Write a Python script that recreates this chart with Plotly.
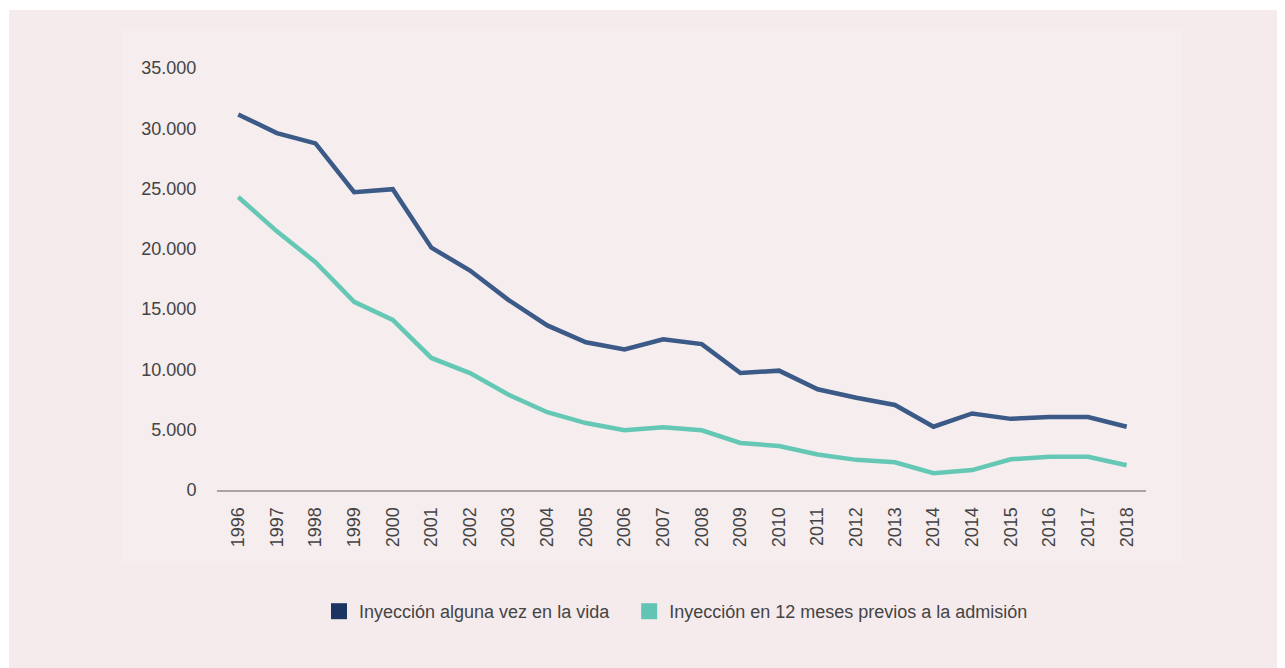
import plotly.graph_objects as go

years = ["1996", "1997", "1998", "1999", "2000", "2001", "2002", "2003", "2004", "2005",
         "2006", "2007", "2008", "2009", "2010", "2011", "2012", "2013", "2014", "2014",
         "2015", "2016", "2017", "2018"]
alguna_vez = [31150, 29600, 28750, 24700, 24950, 20100, 18200, 15750, 13650, 12250,
              11650, 12500, 12100, 9700, 9900, 8350, 7650, 7050, 5250, 6350,
              5900, 6050, 6050, 5250]
ultimos_12 = [24300, 21450, 18900, 15600, 14100, 10950, 9700, 7900, 6450, 5550,
              4950, 5200, 4950, 3900, 3650, 2950, 2500, 2300, 1400, 1650,
              2550, 2750, 2750, 2050]
y_ticks = [0, 5000, 10000, 15000, 20000, 25000, 30000, 35000]
y_ticktext = ["0", "5.000", "10.000", "15.000", "20.000", "25.000", "30.000", "35.000"]
series_names = ["Inyección alguna vez en la vida", "Inyección en 12 meses previos a la admisión"]

line_colors = ["#3b5a87", "#64c8b5"]
legend_colors = ["#1b3461", "#62c4b5"]

x_idx = list(range(len(years)))

# page has an 8px body margin; work in figure coordinates
OFF = 8
W, H = 1285 - OFF, 668 - OFF
L, R, T, B = 217 - OFF, 1146 - OFF, 68 - OFF, 490 - OFF

def px_x(p):
    return (p - OFF - L) / (R - L)

def px_y(p):
    return (B - (p - OFF)) / (B - T)

fig = go.Figure()
for vals, col in zip([alguna_vez, ultimos_12], line_colors):
    fig.add_trace(go.Scatter(x=x_idx, y=vals, mode="lines",
                             line=dict(color=col, width=4.5),
                             showlegend=False, hoverinfo="skip", cliponaxis=False))
for i, (name, col) in enumerate(zip(series_names, legend_colors)):
    label = name + ("\u00a0\u00a0\u00a0" if i == 0 else "")
    fig.add_trace(go.Scatter(x=[None], y=[None], mode="markers", name=label,
                             marker=dict(symbol="square", size=17, color=col)))

shapes = [
    dict(type="rect", xref="paper", yref="paper", layer="below",
         x0=px_x(9), x1=px_x(1300), y0=px_y(10), y1=px_y(700),
         fillcolor="#f5ebed", line=dict(width=0)),
    dict(type="rect", xref="paper", yref="paper", layer="below",
         x0=px_x(122), x1=px_x(1182), y0=px_y(30), y1=px_y(563),
         fillcolor="#f6edef", line=dict(width=0)),
]

fig.update_layout(
    width=W, height=H,
    margin=dict(l=L, r=W - R, t=T, b=H - B),
    paper_bgcolor="white", plot_bgcolor="rgba(0,0,0,0)",
    font=dict(family="Liberation Sans, Arial, sans-serif", size=18, color="#444444"),
    shapes=shapes,
    xaxis=dict(range=[-0.55, 23.5], tickvals=x_idx, ticktext=years, tickangle=-90,
               showgrid=False, zeroline=False, showline=True, linecolor="#a9a5a5",
               linewidth=2, ticks="outside", ticklen=8, tickcolor="rgba(0,0,0,0)",
               tickfont=dict(size=18, color="#444444"), fixedrange=True),
    yaxis=dict(range=[0, 35000], tickvals=y_ticks, ticktext=y_ticktext,
               showgrid=False, zeroline=False, showline=False,
               ticks="outside", ticklen=16, tickcolor="rgba(0,0,0,0)",
               tickfont=dict(size=18, color="#444444"), fixedrange=True),
    legend=dict(orientation="h", x=px_x(319), xanchor="left",
                y=px_y(593), yanchor="top",
                bgcolor="rgba(0,0,0,0)", font=dict(size=18, color="#444444"),
                itemclick=False, itemdoubleclick=False),
    showlegend=True,
)

fig.write_html("out.html")
